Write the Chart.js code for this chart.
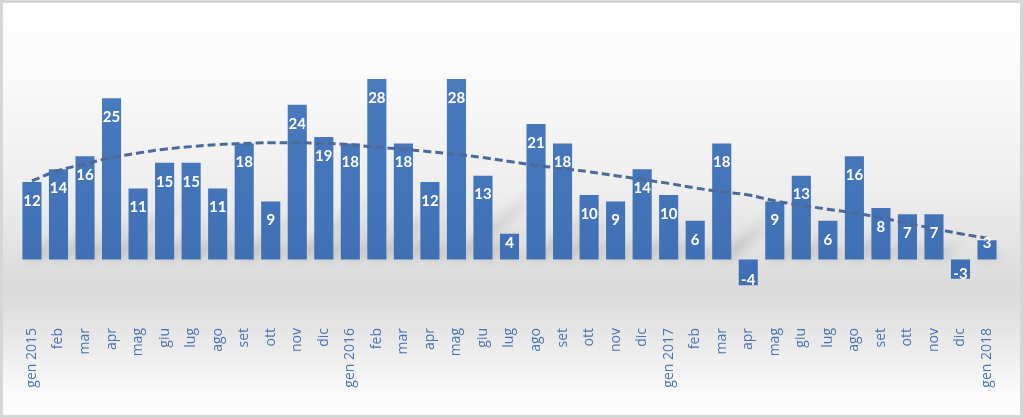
<!DOCTYPE html>
<html>
<head>
<meta charset="utf-8">
<script src="https://cdn.jsdelivr.net/npm/chart.js@4/dist/chart.umd.min.js"></script>
<style>
html,body{margin:0;padding:0;width:1023px;height:418px;overflow:hidden;background:#fff;}
#wrap{position:absolute;left:0;top:0;width:1023px;height:418px;box-sizing:border-box;
  border:3px solid #d6d6d6;
  background:linear-gradient(to bottom,#ffffff 0%,#fbfbfb 15%,#eeeeee 45%,#dadada 70%,#e6e6e6 80%,#fbfbfb 95%,#ffffff 100%);}
#c{display:block;}
</style>
</head>
<body>
<div id="wrap"><canvas id="c" width="1017" height="412"></canvas></div>
<script>
const categories = ["gen 2015","feb","mar","apr","mag","giu","lug","ago","set","ott","nov","dic",
  "gen 2016","feb","mar","apr","mag","giu","lug","ago","set","ott","nov","dic",
  "gen 2017","feb","mar","apr","mag","giu","lug","ago","set","ott","nov","dic",
  "gen 2018"];
const values = [12,14,16,25,11,15,15,11,18,9,24,19,
  18,28,18,12,28,13,4,21,18,10,9,14,
  10,6,18,-4,9,13,6,16,8,7,7,-3,
  3];
// trend line values
const trend = [12.2,13.8,14.8,15.8,16.5,17.1,17.5,17.8,18.0,18.1,18.1,18.0,
  17.8,17.4,17.1,16.7,16.3,15.8,15.2,14.6,14.1,13.6,13.0,12.4,
  11.8,11.1,10.5,10.0,9.1,8.4,7.8,7.2,6.5,5.6,4.8,4.0,
  3.3];

const shadowPlugin = {
  id:'barShadows',
  beforeDatasetsDraw(chart){
    const meta = chart.getDatasetMeta(1);
    const ctx = chart.ctx;
    ctx.save();
    ctx.filter = 'blur(5px)';
    meta.data.forEach((bar,i)=>{
      const v = values[i];
      if (v <= 0) return;
      const base = bar.base, h = base - bar.y;
      const w = bar.width;
      const x0 = bar.x - w/2, x1 = bar.x + w/2;
      const sh = h*0.42, dx = sh*1.2;
      const g = ctx.createLinearGradient(0, base, 0, base - sh);
      g.addColorStop(0,'rgba(0,0,0,0.16)');
      g.addColorStop(1,'rgba(0,0,0,0.0)');
      ctx.fillStyle = g;
      ctx.beginPath();
      ctx.moveTo(x0, base);
      ctx.lineTo(x1, base);
      ctx.lineTo(x1 + dx, base - sh);
      ctx.lineTo(x0 + dx, base - sh);
      ctx.closePath();
      ctx.fill();
    });
    ctx.restore();
  }
};

const labelPlugin = {
  id:'barLabels',
  afterDatasetsDraw(chart){
    const meta = chart.getDatasetMeta(1);
    const ctx = chart.ctx;
    ctx.save();
    ctx.font = 'bold 15px Lato, "Open Sans", sans-serif';
    ctx.fillStyle = '#ffffff';
    ctx.textAlign = 'center';
    ctx.textBaseline = 'middle';
    meta.data.forEach((bar,i)=>{
      const v = values[i];
      let y;
      if (v >= 0) {
        y = Math.min(bar.y + 19, bar.base - 16);
      } else {
        y = bar.y - 5;
      }
      ctx.fillText(String(v), bar.x, y);
    });
    ctx.restore();
  }
};

const ctx = document.getElementById('c').getContext('2d');
const barGrad = ctx.createLinearGradient(0, 60, 0, 300);
barGrad.addColorStop(0,'#4a7cc0');
barGrad.addColorStop(1,'#3e6db2');

new Chart(ctx, {
  data: {
    labels: categories,
    datasets: [
      {
        type:'line',
        data: trend,
        borderColor:'#4b6a98',
        borderWidth:3,
        borderDash:[8,4],
        pointRadius:0,
        fill:false,
        tension:0.4,
        order:0
      },
      {
        type:'bar',
        data: values,
        backgroundColor: barGrad,
        borderWidth:0,
        barPercentage:0.72,
        categoryPercentage:1.0,
        order:1
      }
    ]
  },
  options: {
    responsive:false,
    animation:false,
    layout:{padding:{left:15.7,right:19.7,top:63,bottom:0}},
    plugins:{legend:{display:false},tooltip:{enabled:false}},
    scales:{
      y:{display:false,min:-10,max:30},
      x:{
        offset:true,
        grid:{display:false,drawTicks:false},
        border:{display:false},
        ticks:{
          autoSkip:false,
          minRotation:90,maxRotation:90,
          padding:4,
          color:'#4a74b2',
          font:{family:'"Open Sans", sans-serif',size:14}
        },
        afterFit(scale){ scale.height = 91; }
      }
    }
  },
  plugins:[shadowPlugin,labelPlugin]
});
</script>
</body>
</html>
